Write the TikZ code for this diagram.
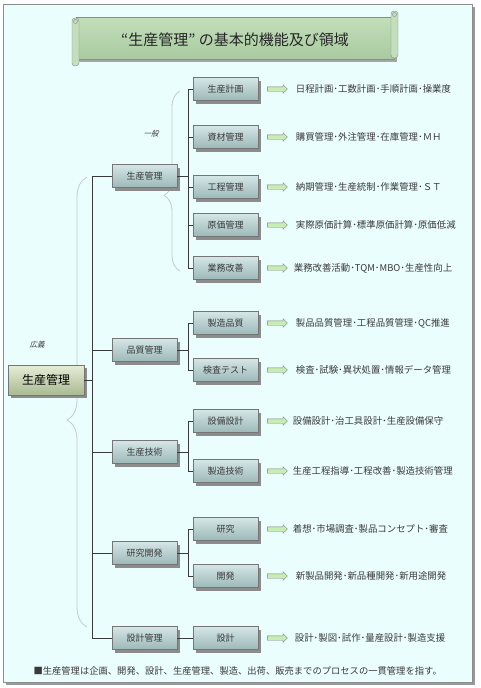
\documentclass[tikz,border=0pt]{standalone}
\usepackage{fontspec}
\setmainfont{Noto Sans CJK JP}
\newfontfamily\slantjp[FakeSlant=0.25]{Noto Sans CJK JP}
\usetikzlibrary{positioning, shapes.arrows, shadows, decorations.pathreplacing}
\definecolor{Paper}{HTML}{EBFEFE}
\definecolor{Frame}{HTML}{8C8C8C}
\definecolor{BoxTop}{HTML}{D5E6E6}
\definecolor{BoxMid}{HTML}{F5FBFB}
\definecolor{BoxBot}{HTML}{9CB8B8}
\definecolor{RootTop}{HTML}{E6EED6}
\definecolor{RootMid}{HTML}{F2F7E4}
\definecolor{RootBot}{HTML}{A9B992}
\definecolor{ScrollTop}{HTML}{C2DEBA}
\definecolor{ScrollMid}{HTML}{E0F4D8}
\definecolor{ScrollBot}{HTML}{A9CBA1}
\definecolor{Arrow}{HTML}{C6EEB2}
\definecolor{Brace}{HTML}{C3CCCC}
\definecolor{Ink}{HTML}{3A3A3A}

\begin{document}
\begin{tikzpicture}[x=1pt,y=-1pt,
  box/.style={draw=Ink!70, top color=BoxTop, middle color=BoxMid, bottom color=BoxBot,
    minimum width=65pt, minimum height=23pt, inner sep=0pt, text=Ink,
    font=\fontsize{9}{9}\selectfont,
    drop shadow={shadow xshift=3pt, shadow yshift=-3pt, fill=black!45, opacity=1}},
  rootbox/.style={box, top color=RootTop, middle color=RootMid, bottom color=RootBot,
    minimum width=76pt, minimum height=30pt, text=black, font=\fontsize{12}{12}\selectfont},
  arr/.style={single arrow, draw=Ink!65, fill=Arrow, minimum height=20pt,
    inner xsep=0pt, inner ysep=2pt, text height=0pt, text depth=0pt,
    single arrow head extend=2.2pt},
  desc/.style={text=Ink, font=\fontsize{9.4}{9.4}\selectfont, inner sep=0pt},
  link/.style={draw=Ink, line width=0.8pt},
  brc/.style={draw=Brace, line width=0.8pt, decorate}
]

\useasboundingbox (0,0) rectangle (480,688);

% frame
\fill[black!40] (6,7) rectangle (475,685);
\filldraw[fill=Paper, draw=Frame, line width=1pt] (3,4) rectangle (472,682);

% title scroll
\fill[black!35] (79,21) rectangle (397,62);
\shade[top color=ScrollTop, middle color=ScrollMid, bottom color=ScrollBot, draw=Frame] (76,17) rectangle (394,59);
\filldraw[fill=ScrollTop, draw=Frame, rounded corners=3pt] (72,18) rectangle (79,66);
\filldraw[fill=ScrollTop, draw=Frame, rounded corners=3pt] (391,11) rectangle (398,58);
\draw[Frame] (75.5,21.5) circle [radius=2];
\draw[Frame] (394.5,14.5) circle [radius=2];
\node[font=\fontsize{15}{15}\selectfont, text=black!85] (title) at (235,40) {“生産管理”\ の基本的機能及び領域};

% braces
\coordinate (g1) at (180,271);
\coordinate (g2) at (180,91);
\coordinate (g3) at (87,627);
\coordinate (g4) at (87,177);
\draw[brc, decoration={brace, amplitude=16pt, aspect=0.42}] (g1) -- (g2);
\draw[brc, decoration={brace, amplitude=20pt, aspect=0.46}] (g3) -- (g4);

\node[font=\slantjp\fontsize{7.5}{7.5}\selectfont, text=Ink] (n1) at (151,134) {一般};
\node[font=\slantjp\fontsize{7.5}{7.5}\selectfont, text=Ink] (n2) at (37,345) {広義};

% boxes
\node[rootbox] (r) at (46,380) {生産管理};

\node[box] (a1) at (144.5,176) {生産管理};
\node[box] (a2) at (144.5,350) {品質管理};
\node[box] (a3) at (144.5,452) {生産技術};
\node[box] (a4) at (144.5,553) {研究開発};
\node[box] (a5) at (144.5,638) {設計管理};

\node[box] (b1) at (225.5,89) {生産計画};
\node[box] (b2) at (225.5,137) {資材管理};
\node[box] (b3) at (225.5,187) {工程管理};
\node[box] (b4) at (225.5,225) {原価管理};
\node[box] (b5) at (225.5,268) {業務改善};
\node[box] (b6) at (225.5,323) {製造品質};
\node[box] (b7) at (225.5,370) {検査テスト};
\node[box] (b8) at (225.5,421) {設備設計};
\node[box] (b9) at (225.5,471) {製造技術};
\node[box] (b10) at (225.5,529) {研究};
\node[box] (b11) at (225.5,576) {開発};
\node[box] (b12) at (225.5,638) {設計};

% arrows and texts
\node[arr, right=9pt of b1] (p1) {};
\node[arr, right=9pt of b2] (p2) {};
\node[arr, right=9pt of b3] (p3) {};
\node[arr, right=9pt of b4] (p4) {};
\node[arr, right=9pt of b5] (p5) {};
\node[arr, right=9pt of b6] (p6) {};
\node[arr, right=9pt of b7] (p7) {};
\node[arr, right=9pt of b8] (p8) {};
\node[arr, right=9pt of b9] (p9) {};
\node[arr, right=9pt of b10] (p10) {};
\node[arr, right=9pt of b11] (p11) {};
\node[arr, right=9pt of b12] (p12) {};

\node[desc, right=8pt of p1] (c1) {日程計画･工数計画･手順計画･操業度};
\node[desc, right=8pt of p2] (c2) {購買管理･外注管理･在庫管理･ＭＨ};
\node[desc, right=8pt of p3] (c3) {納期管理･生産統制･作業管理･ＳＴ};
\node[desc, right=8pt of p4] (c4) {実際原価計算･標準原価計算･原価低減};
\node[desc, right=6pt of p5] (c5) {業務改善活動･TQM･MBO･生産性向上};
\node[desc, right=8pt of p6] (c6) {製品品質管理･工程品質管理･QC推進};
\node[desc, right=8pt of p7] (c7) {検査･試験･異状処置･情報データ管理};
\node[desc, right=5pt of p8] (c8) {設備設計･治工具設計･生産設備保守};
\node[desc, right=5pt of p9] (c9) {生産工程指導･工程改善･製造技術管理};
\node[desc, right=5pt of p10] (c10) {着想･市場調査･製品コンセプト･審査};
\node[desc, right=8pt of p11] (c11) {新製品開発･新品種開発･新用途開発};
\node[desc, right=7pt of p12] (c12) {設計･製図･試作･量産設計･製造支援};

% tree lines
\coordinate (trunk) at (92,0);
\coordinate (bus) at (188,0);

\draw[link] (r.east) -- (r.east -| trunk);
\draw[link] (a1.west) -- (a1.west -| trunk) -- (a5.west -| trunk) -- (a5.west);
\draw[link] (a2.west) -- (a2.west -| trunk);
\draw[link] (a3.west) -- (a3.west -| trunk);
\draw[link] (a4.west) -- (a4.west -| trunk);

\draw[link] (a1.east) -- (a1.east -| bus);
\draw[link] (b1.west) -- (b1.west -| bus) -- (b5.west -| bus) -- (b5.west);
\draw[link] (b2.west) -- (b2.west -| bus);
\draw[link] (b3.west) -- (b3.west -| bus);
\draw[link] (b4.west) -- (b4.west -| bus);

\draw[link] (a2.east) -- (a2.east -| bus);
\draw[link] (b6.west) -- (b6.west -| bus) -- (b7.west -| bus) -- (b7.west);

\draw[link] (a3.east) -- (a3.east -| bus);
\draw[link] (b8.west) -- (b8.west -| bus) -- (b9.west -| bus) -- (b9.west);

\draw[link] (a4.east) -- (a4.east -| bus);
\draw[link] (b10.west) -- (b10.west -| bus) -- (b11.west -| bus) -- (b11.west);

\draw[link] (a5) -- (b12);

% note
\node[anchor=west, font=\fontsize{9.3}{9.3}\selectfont, text=Ink] (note) at (30,671) {■生産管理は企画、開発、設計、生産管理、製造、出荷、販売までのプロセスの一貫管理を指す。};

\end{tikzpicture}
\end{document}
